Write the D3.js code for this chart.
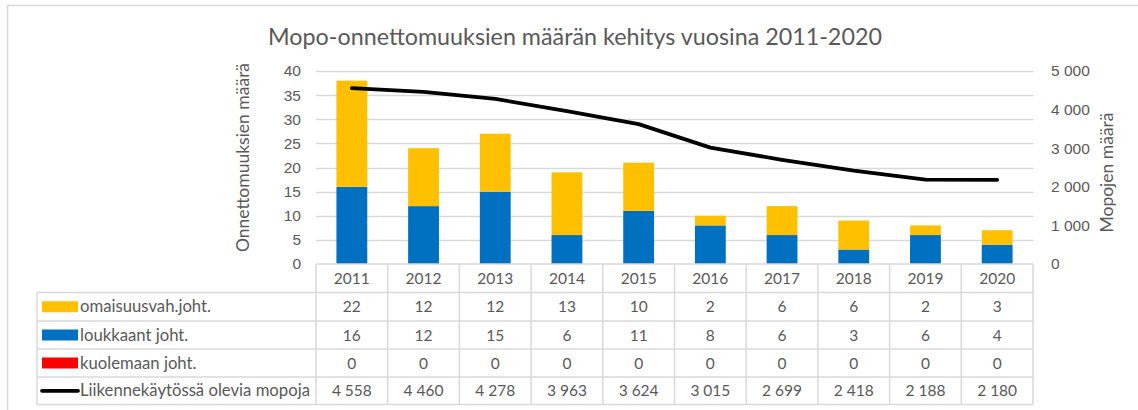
<!DOCTYPE html>
<html>
<head>
<meta charset="utf-8">
<script src="https://cdn.jsdelivr.net/npm/d3@7"></script>
<style>
  html, body { margin: 0; padding: 0; background: #fff; }
  svg { display: block; font-family: Lato, "Open Sans", sans-serif; }
  text { fill: #595959; }
</style>
</head>
<body>
<div id="root"></div>
<script>
// values
const years = ['2011', '2012', '2013', '2014', '2015', '2016', '2017', '2018', '2019', '2020'];
const omaisuus = [22, 12, 12, 13, 10, 2, 6, 6, 2, 3];
const loukkaant = [16, 12, 15, 6, 11, 8, 6, 3, 6, 4];
const kuolemaan = [0, 0, 0, 0, 0, 0, 0, 0, 0, 0];
const mopot = [4558, 4460, 4278, 3963, 3624, 3015, 2699, 2418, 2188, 2180];
const leftTicks = [0, 5, 10, 15, 20, 25, 30, 35, 40];
const rightTicks = [0, 1000, 2000, 3000, 4000, 5000];

const W = 1138, H = 410;
const grid = '#d9d9d9';
const fi = d3.formatLocale({ decimal: ',', thousands: '\u00a0', grouping: [3], currency: ['', ''] });
const fmt = fi.format(',d');

const svg = d3.select('#root').append('svg').attr('width', W).attr('height', H);

// chart frame (only top + left edges visible in the crop)
svg.append('path').attr('d', `M7.5,${H} V5.5 H${W}`)
  .attr('fill', 'none').attr('stroke', grid).attr('stroke-width', 1.5);

const plot = { left: 316, right: 1033, top: 71, bottom: 264 };

const x = d3.scaleBand().domain(years).range([plot.left, plot.right]).paddingInner(0).paddingOuter(0);
const yL = d3.scaleLinear().domain([0, 40]).range([plot.bottom, plot.top]);
const yR = d3.scaleLinear().domain([0, 5000]).range([plot.bottom, plot.top]);

// title
svg.append('text').attr('x', 575).attr('y', 45).attr('text-anchor', 'middle')
  .style('font-size', '23.3px').text('Mopo-onnettomuuksien määrän kehitys vuosina 2011-2020');

// gridlines
svg.append('g').selectAll('line').data(leftTicks.slice(1)).join('line')
  .attr('x1', plot.left).attr('x2', plot.right)
  .attr('y1', d => Math.round(yL(d)) + 0.5).attr('y2', d => Math.round(yL(d)) + 0.5)
  .attr('stroke', grid).attr('stroke-width', 1.5);

// left axis
const axL = svg.append('g').attr('transform', `translate(${plot.left - 9},0)`)
  .call(d3.axisLeft(yL).tickValues(leftTicks).tickSize(0).tickPadding(6));
axL.select('.domain').remove();
axL.selectAll('text').style('font-size', '15.5px').style('fill', '#595959').attr('font-family', null);

// right axis
const axR = svg.append('g').attr('transform', `translate(${plot.right + 12},0)`)
  .call(d3.axisRight(yR).tickValues(rightTicks).tickSize(0).tickPadding(6).tickFormat(fmt));
axR.select('.domain').remove();
axR.selectAll('text').style('font-size', '15.5px').style('fill', '#595959').attr('font-family', null);

// axis titles
svg.append('text').attr('transform', `translate(249,${(plot.top + plot.bottom) / 2 - 10}) rotate(-90)`)
  .attr('text-anchor', 'middle').style('font-size', '17.5px').text('Onnettomuuksien määrä');
svg.append('text').attr('transform', `translate(1113,${(plot.top + plot.bottom) / 2 + 5}) rotate(-90)`)
  .attr('text-anchor', 'middle').style('font-size', '17.5px').text('Mopojen määrä');

// stacked bars: blue bottom, orange top, red (zeros)
const series = [
  { name: 'loukkaant joht.', values: loukkaant, color: '#0070C0' },
  { name: 'kuolemaan joht.', values: kuolemaan, color: '#FF0000' },
  { name: 'omaisuusvah.joht.', values: omaisuus, color: '#FFC000' }
];
const stackData = years.map((yr, i) => {
  const o = { year: yr };
  series.forEach(s => { o[s.name] = s.values[i]; });
  return o;
});
const stacked = d3.stack().keys(series.map(s => s.name))(stackData);
const barW = x.bandwidth() * 0.43;

svg.append('g').selectAll('g').data(stacked).join('g')
  .attr('fill', (d, i) => series[i].color)
  .selectAll('rect').data(d => d).join('rect')
  .attr('x', d => x(d.data.year) + (x.bandwidth() - barW) / 2)
  .attr('width', barW)
  .attr('y', d => yL(d[1]))
  .attr('height', d => yL(d[0]) - yL(d[1]));

// line on the secondary axis
const line = d3.line()
  .x((d, i) => x(years[i]) + x.bandwidth() / 2)
  .y(d => yR(d));
svg.append('path').datum(mopot).attr('d', line)
  .attr('fill', 'none').attr('stroke', '#000').attr('stroke-width', 3.75)
  .attr('stroke-linejoin', 'round').attr('stroke-linecap', 'round');

// data table
const rowTops = [264, 292.5, 321, 349, 377, 404.5];
const legendLeft = 37;
const tbl = svg.append('g');
const tableRows = [
  { name: 'omaisuusvah.joht.', values: omaisuus, color: '#FFC000', kind: 'rect' },
  { name: 'loukkaant joht.', values: loukkaant, color: '#0070C0', kind: 'rect' },
  { name: 'kuolemaan joht.', values: kuolemaan, color: '#FF0000', kind: 'rect' },
  { name: 'Liikennekäytössä olevia mopoja', values: mopot, color: '#000', kind: 'line' }
];

// horizontal lines
rowTops.forEach((yy, i) => {
  tbl.append('line').attr('x1', i === 0 ? plot.left : legendLeft).attr('x2', plot.right)
    .attr('y1', yy).attr('y2', yy).attr('stroke', grid).attr('stroke-width', 1.5);
});
// vertical lines
tbl.append('line').attr('x1', legendLeft).attr('x2', legendLeft)
  .attr('y1', rowTops[1]).attr('y2', rowTops[5]).attr('stroke', grid).attr('stroke-width', 1.5);
years.concat(['end']).forEach(yr => {
  const xx = yr === 'end' ? plot.right : x(yr);
  tbl.append('line').attr('x1', xx).attr('x2', xx)
    .attr('y1', rowTops[0]).attr('y2', rowTops[5]).attr('stroke', grid).attr('stroke-width', 1.5);
});

// header years
tbl.selectAll('text.yr').data(years).join('text').attr('class', 'yr')
  .attr('x', d => x(d) + x.bandwidth() / 2).attr('y', (rowTops[0] + rowTops[1]) / 2 + 5.5)
  .attr('text-anchor', 'middle').style('font-size', '15.5px').text(d => d);

tableRows.forEach((r, ri) => {
  const cy = (rowTops[ri + 1] + rowTops[ri + 2]) / 2;
  if (r.kind === 'rect') {
    tbl.append('rect').attr('x', 42).attr('y', cy - 5.5).attr('width', 36).attr('height', 11).attr('fill', r.color);
  } else {
    tbl.append('line').attr('x1', 42).attr('x2', 78).attr('y1', cy).attr('y2', cy)
      .attr('stroke', r.color).attr('stroke-width', 3.75).attr('stroke-linecap', 'round');
  }
  tbl.append('text').attr('x', 80).attr('y', cy + 5.5).style('font-size', '16.7px').text(r.name);
  tbl.selectAll(null).data(r.values).join('text')
    .attr('x', (d, i) => x(years[i]) + x.bandwidth() / 2).attr('y', cy + 5.5)
    .attr('text-anchor', 'middle').style('font-size', '15.5px')
    .text(d => fmt(d));
});
</script>
</body>
</html>
